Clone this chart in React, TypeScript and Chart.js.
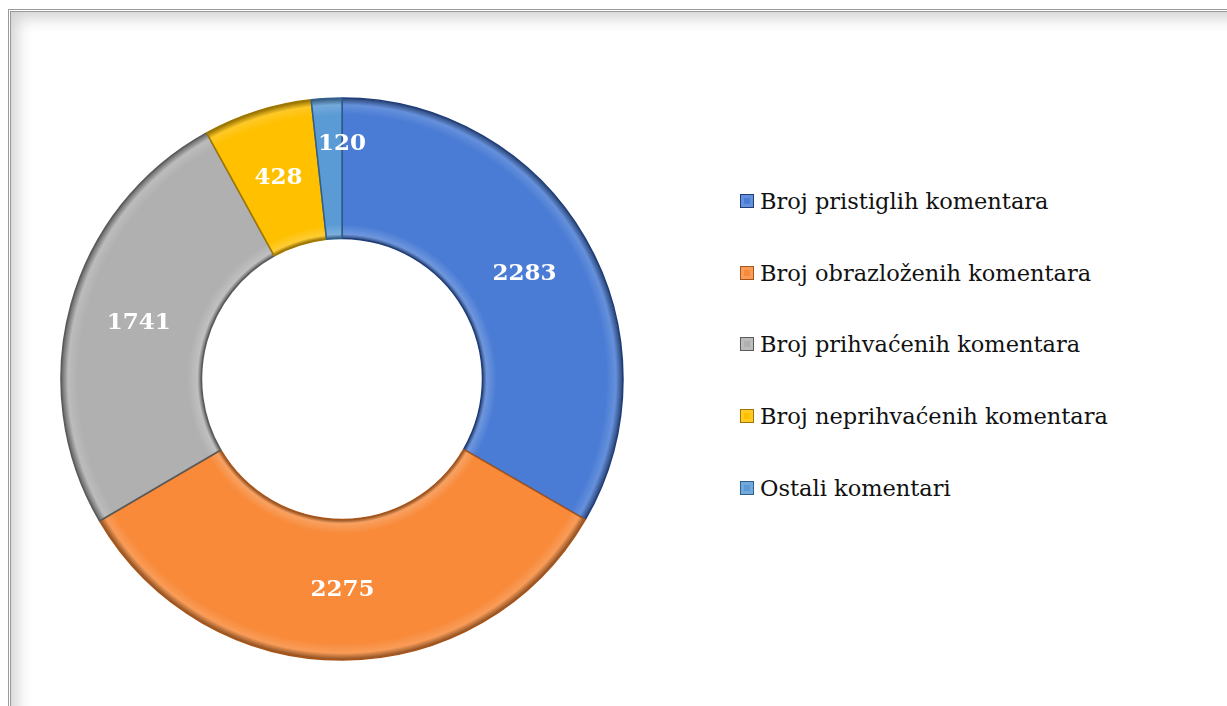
import React, { useEffect, useRef } from "react";
import { Chart, registerables } from "chart.js";

Chart.register(...registerables);

const categories = [
  "Broj pristiglih komentara",
  "Broj obrazloženih komentara",
  "Broj prihvaćenih komentara",
  "Broj neprihvaćenih komentara",
  "Ostali komentari",
];
const values = [2283, 2275, 1741, 428, 120];
const colors = ["#4a7cd5", "#f88a3a", "#b0b0b0", "#ffc000", "#5b9bd5"];
const edgeColors = ["#1f3d78", "#a8551a", "#5a5a5a", "#a07800", "#2e5f8f"];

function shade(hex: string, amt: number) {
  const n = parseInt(hex.slice(1), 16);
  let r = (n >> 16) & 255, g = (n >> 8) & 255, b = n & 255;
  const f = (c: number) => Math.max(0, Math.min(255, Math.round(amt >= 0 ? c + (255 - c) * amt : c * (1 + amt))));
  r = f(r); g = f(g); b = f(b);
  return `rgb(${r},${g},${b})`;
}

const labelPlugin = {
  id: "sliceLabels",
  afterDatasetsDraw(chart: any) {
    const ctx = chart.ctx;
    const meta = chart.getDatasetMeta(0);
    ctx.save();
    ctx.font = "bold 23px 'DejaVu Serif'";
    ctx.fillStyle = "#ffffff";
    ctx.textAlign = "center";
    ctx.textBaseline = "middle";
    meta.data.forEach((arc: any, i: number) => {
      const { x, y, startAngle, endAngle, innerRadius, outerRadius } = arc.getProps(
        ["x", "y", "startAngle", "endAngle", "innerRadius", "outerRadius"], true);
      let mid = (startAngle + endAngle) / 2;
      let r = (innerRadius + outerRadius) / 2;
      if (i === values.length - 1) {
        mid = endAngle;
        r = outerRadius * 0.835;
      }
      ctx.fillText(String(values[i]), x + Math.cos(mid) * r, y + Math.sin(mid) * r);
    });
    ctx.restore();
  },
};

export default function App() {
  const ref = useRef<HTMLCanvasElement | null>(null);
  useEffect(() => {
    document.body.style.margin = "0";
    const canvas = ref.current!;
    const chart = new Chart(canvas, {
      type: "doughnut",
      data: {
        labels: categories,
        datasets: [
          {
            data: values,
            backgroundColor: (c: any) => {
              const ch = c.chart;
              const meta = ch.getDatasetMeta(0);
              const arc = meta.data[c.dataIndex] as any;
              if (!arc || !arc.outerRadius) return colors[c.dataIndex];
              const cx = arc.x, cy = arc.y;
              const ir = arc.innerRadius, or = arc.outerRadius;
              const g = ch.ctx.createRadialGradient(cx, cy, ir, cx, cy, or);
              const base = colors[c.dataIndex];
              g.addColorStop(0, shade(base, -0.45));
              g.addColorStop(0.03, shade(base, 0.2));
              g.addColorStop(0.1, base);
              g.addColorStop(0.88, base);
              g.addColorStop(0.95, shade(base, 0.15));
              g.addColorStop(1, shade(base, -0.45));
              return g;
            },
            borderColor: edgeColors,
            borderWidth: 1.5,
            hoverOffset: 0,
          },
        ],
      },
      options: {
        animation: false,
        responsive: false,
        maintainAspectRatio: false,
        cutout: "50%",
        radius: 281,
        layout: { padding: 0 },
        events: [],
        plugins: {
          legend: { display: false },
          tooltip: { enabled: false },
        },
      },
      plugins: [labelPlugin],
    });
    chart.update();
    return () => chart.destroy();
  }, []);

  return (
    <div style={{ position: "absolute", left: 0, top: 0, width: 1227, height: 706, overflow: "hidden", background: "#fff" }}>
      <div
        style={{
          position: "absolute",
          left: 8,
          top: 9,
          width: 1300,
          height: 800,
          border: "3px double #9a9a9a",
          boxShadow: "inset 14px 14px 16px -8px rgba(0,0,0,0.18)",
          boxSizing: "border-box",
        }}
      />
      <canvas
        ref={ref}
        width={570}
        height={570}
        style={{ position: "absolute", left: 57, top: 94, width: 570, height: 570 }}
      />
      <div style={{ position: "absolute", left: 740, top: 0 }}>
        {categories.map((name, i) => (
          <div
            key={name}
            style={{
              position: "absolute",
              left: 0,
              top: 186 + i * 71.7,
              whiteSpace: "nowrap",
              display: "flex",
              alignItems: "center",
              height: 30,
              fontFamily: "'DejaVu Serif'",
              fontSize: 22.5,
              color: "#111",
            }}
          >
            <span
              style={{
                display: "inline-block",
                width: 12,
                height: 12,
                marginRight: 6,
                background: colors[i],
                border: `1px solid ${edgeColors[i]}`,
                boxShadow: `inset 0 0 0 3px ${shade(colors[i], 0.15)}`,
              }}
            />
            <span>{name}</span>
          </div>
        ))}
      </div>
    </div>
  );
}
